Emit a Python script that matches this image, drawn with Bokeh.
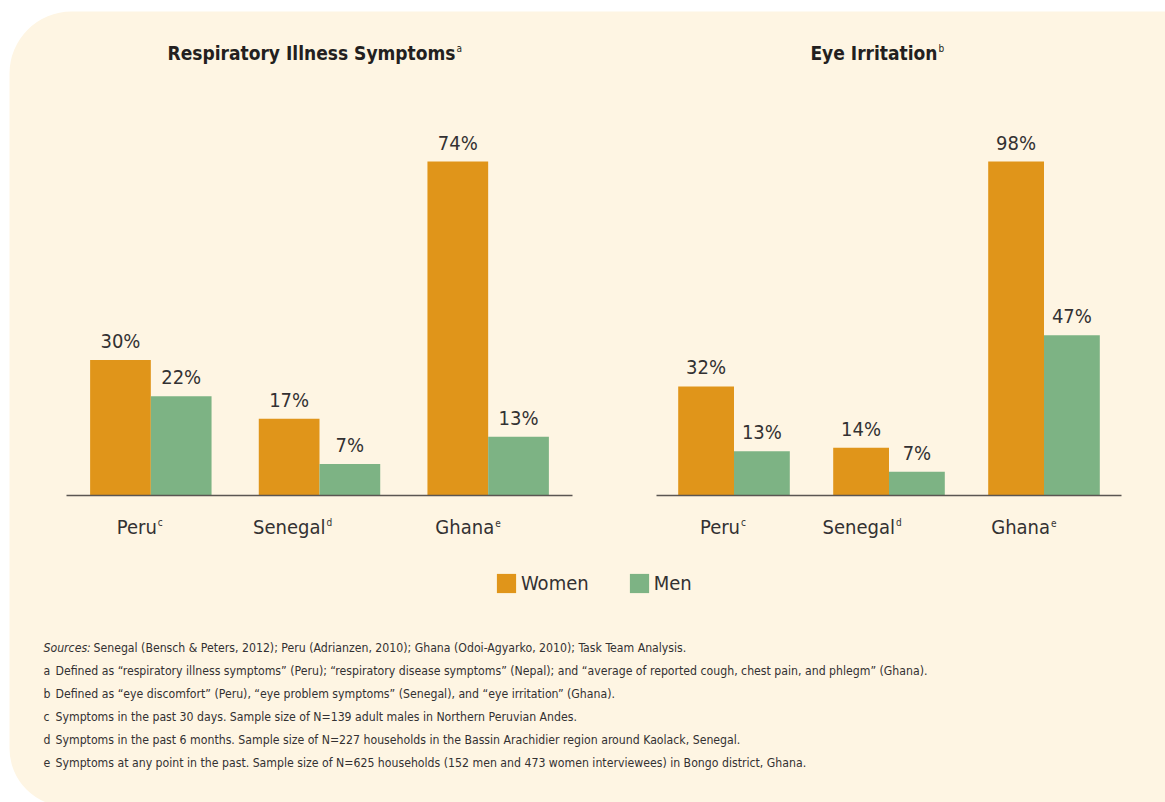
from bokeh.plotting import figure
from bokeh.models import Range1d, BoxAnnotation, Legend, LegendItem
from bokeh.core.properties import value
from bokeh.embed import file_html
from bokeh.resources import INLINE

# ---------------- data ----------------
countries = ["Peru", "Senegal", "Ghana"]
country_notes = ["c", "d", "e"]
resp_women = [30, 17, 74]
resp_men = [22, 7, 13]
eye_women = [32, 14, 98]
eye_men = [13, 7, 47]
panel_titles = ["Respiratory Illness Symptoms", "Eye Irritation"]
panel_notes = ["a", "b"]
series_names = ["Women", "Men"]
sources_label = "Sources:"
sources_text = ("Senegal (Bensch & Peters, 2012); Peru (Adrianzen, 2010); "
                "Ghana (Odoi-Agyarko, 2010); Task Team Analysis.")
note_letters = ["a", "b", "c", "d", "e"]
note_texts = [
    "Defined as \u201crespiratory illness symptoms\u201d (Peru); \u201crespiratory disease symptoms\u201d (Nepal); and \u201caverage of reported cough, chest pain, and phlegm\u201d (Ghana).",
    "Defined as \u201ceye discomfort\u201d (Peru), \u201ceye problem symptoms\u201d (Senegal), and \u201ceye irritation\u201d (Ghana).",
    "Symptoms in the past 30 days. Sample size of N=139 adult males in Northern Peruvian Andes.",
    "Symptoms in the past 6 months. Sample size of N=227 households in the Bassin Arachidier region around Kaolack, Senegal.",
    "Symptoms at any point in the past. Sample size of N=625 households (152 men and 473 women interviewees) in Bongo district, Ghana.",
]

# ---------------- style ----------------
FONT = "DejaVu Sans Condensed"
ORANGE = "#E0951A"
GREEN = "#7DB384"
CREAM = "#FEF5E3"
TEXT = "#333132"
TITLE = "#231F20"
AXIS = "#5B5652"

W, H = 1165, 802
OX, OY = 0, 0  # page offset of the figure


def lx(page_x):
    return page_x - OX


def ly(page_y):
    return H - (page_y - OY)


p = figure(width=W, height=H, output_backend="svg", toolbar_location=None,
           x_range=Range1d(0, W), y_range=Range1d(0, H),
           min_border=0, min_border_left=0, min_border_right=0,
           min_border_top=0, min_border_bottom=0)
p.axis.visible = False
p.grid.visible = False
p.outline_line_color = None
p.background_fill_color = "white"
p.border_fill_color = "white"

# cream background panel with rounded left corners
bg = BoxAnnotation(left=lx(9), right=W + 20, top=ly(11), bottom=ly(806),
                   fill_color=CREAM, fill_alpha=1, line_color=None,
                   border_radius=dict(top_left=62, top_right=0, bottom_right=0, bottom_left=58),
                   level="underlay")
p.add_layout(bg)

BASE_Y = 495      # page y of baseline
TOP_Y = 161       # page y of tallest bar top
BAR_W = 0.36
LBL = "20px"
SUP = "10px"

panels = [
    dict(name="L", women=resp_women, men=resp_men, x0=66, x1=572,
         title=panel_titles[0], note=panel_notes[0], title_right=455),
    dict(name="R", women=eye_women, men=eye_men, x0=656, x1=1121,
         title=panel_titles[1], note=panel_notes[1], title_right=937),
]

n = len(countries)
centers = [i + 0.5 for i in range(n)]
women_x = [c - BAR_W / 2 for c in centers]
men_x = [c + BAR_W / 2 for c in centers]

legend_renderers = None
for pan in panels:
    xunit = (pan["x1"] - pan["x0"]) / n
    xstart = -lx(pan["x0"]) / xunit
    p.extra_x_ranges[pan["name"] + "x"] = Range1d(xstart, xstart + W / xunit)
    ymax = max(pan["women"] + pan["men"])
    yunit = (BASE_Y - TOP_Y) / ymax
    ystart = -ly(BASE_Y) / yunit
    p.extra_y_ranges[pan["name"] + "y"] = Range1d(ystart, ystart + H / yunit)
    kw = dict(x_range_name=pan["name"] + "x", y_range_name=pan["name"] + "y")

    rw = p.vbar(x=women_x, top=pan["women"], bottom=0, width=BAR_W,
                fill_color=ORANGE, line_color=None, **kw)
    rm = p.vbar(x=men_x, top=pan["men"], bottom=0, width=BAR_W,
                fill_color=GREEN, line_color=None, **kw)
    if legend_renderers is None:
        legend_renderers = (rw, rm)

    # baseline
    p.segment(x0=[0], x1=[n], y0=[0], y1=[0], line_color=AXIS, line_width=1.6, **kw)

    # value labels
    p.text(x=women_x, y=pan["women"], text=[f"{v}%" for v in pan["women"]],
           text_font=value(FONT), text_font_size=LBL, text_color=TEXT,
           text_align="center", text_baseline="alphabetic", y_offset=-19, **kw)
    p.text(x=men_x, y=pan["men"], text=[f"{v}%" for v in pan["men"]],
           text_font=value(FONT), text_font_size=LBL, text_color=TEXT,
           text_align="center", text_baseline="alphabetic", y_offset=-19, **kw)

    # category labels with superscript notes
    p.text(x=centers, y=[0] * n, text=countries,
           text_font=value(FONT), text_font_size=LBL, text_color=TEXT,
           text_align="right", text_baseline="alphabetic",
           x_offset=6, y_offset=31, **kw)
    p.text(x=centers, y=[0] * n, text=country_notes,
           text_font=value(FONT), text_font_size=SUP, text_color=TEXT,
           text_align="left", text_baseline="alphabetic",
           x_offset=7, y_offset=27, **kw)

    # panel title
    p.text(x=[lx(pan["title_right"])], y=[ly(52)], text=[pan["title"]],
           text_font=value(FONT), text_font_size="19px", text_font_style="bold",
           text_color=TITLE, text_align="right", text_baseline="alphabetic")
    p.text(x=[lx(pan["title_right"] + 1)], y=[ly(48)], text=[pan["note"]],
           text_font=value(FONT), text_font_size=SUP,
           text_color=TITLE, text_align="left", text_baseline="alphabetic")

# legend
legend = Legend(items=[LegendItem(label=series_names[0], renderers=[legend_renderers[0]]),
                       LegendItem(label=series_names[1], renderers=[legend_renderers[1]])],
                orientation="horizontal", location=(lx(494), ly(595)),
                glyph_width=24, glyph_height=24, label_standoff=3, spacing=38,
                padding=0, margin=0, border_line_color=None, background_fill_alpha=0,
                label_text_font=FONT, label_text_font_size=LBL, label_text_color=TEXT)
p.add_layout(legend)

# footnotes
FN_SIZE = "12.2px"
FN_BASE = 647
p.text(x=[lx(43)], y=[ly(FN_BASE)], text=[sources_label], text_font=value(FONT),
       text_font_size=FN_SIZE, text_font_style="italic", text_color=TEXT,
       text_align="left", text_baseline="alphabetic")
p.text(x=[lx(93)], y=[ly(FN_BASE)], text=[sources_text], text_font=value(FONT),
       text_font_size=FN_SIZE, text_color=TEXT,
       text_align="left", text_baseline="alphabetic")
fn_y = [ly(FN_BASE + 23 * (i + 1)) for i in range(len(note_letters))]
p.text(x=[lx(43)] * len(note_letters), y=fn_y, text=note_letters, text_font=value(FONT),
       text_font_size=FN_SIZE, text_color=TEXT, text_align="left", text_baseline="alphabetic")
p.text(x=[lx(55)] * len(note_texts), y=fn_y, text=note_texts, text_font=value(FONT),
       text_font_size=FN_SIZE, text_color=TEXT, text_align="left", text_baseline="alphabetic")

open("out.html", "w").write(file_html(p, INLINE))
